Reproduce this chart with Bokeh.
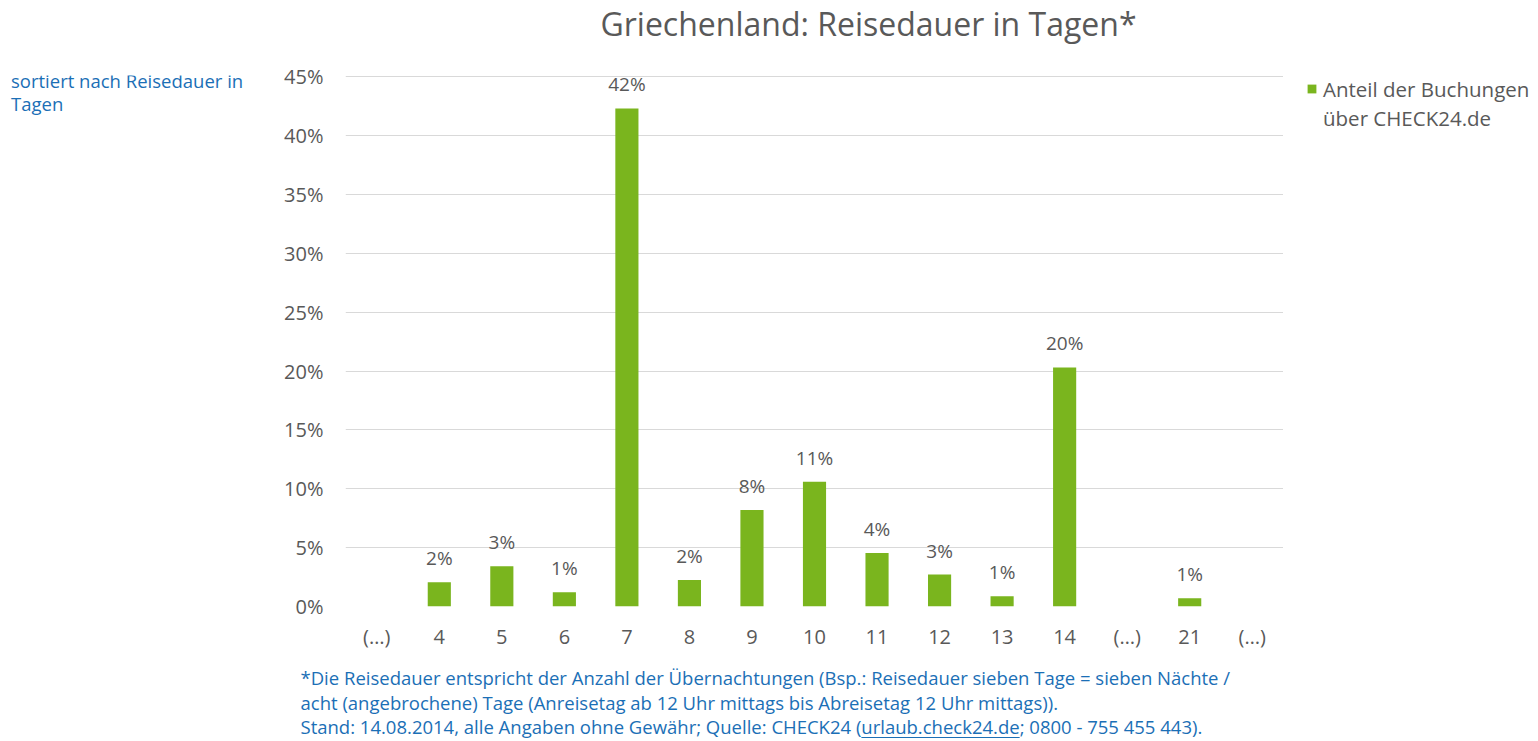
import glob
import subprocess

from bokeh.plotting import figure
from bokeh.layouts import column, row
from bokeh.models import BoxAnnotation, ColumnDataSource, FixedTicker, Label, Legend, LegendItem, Range1d
from bokeh.embed import file_html
from bokeh.resources import INLINE
from bokeh.core.properties import value

# ---- data ----
categories = ["(…)", "4", "5", "6", "7", "8", "9", "10", "11", "12", "13", "14", "(…)", "21", "(…)"]
shares = [0, 2.07, 3.42, 1.21, 42.3, 2.26, 8.2, 10.6, 4.55, 2.71, 0.87, 20.3, 0, 0.70, 0]
share_labels = ["", "2%", "3%", "1%", "42%", "2%", "8%", "11%", "4%", "3%", "1%", "20%", "", "1%", ""]
y_ticks = [0, 5, 10, 15, 20, 25, 30, 35, 40, 45]
title_text = "Griechenland: Reisedauer in Tagen*"
legend_lines = ["Anteil der Buchungen", "über CHECK24.de"]
side_note = ["sortiert nach Reisedauer in", "Tagen"]
footnote = [
    "*Die Reisedauer entspricht der Anzahl der Übernachtungen (Bsp.: Reisedauer sieben Tage = sieben Nächte /",
    "acht (angebrochene) Tage (Anreisetag ab 12 Uhr mittags bis Abreisetag 12 Uhr mittags)).",
    "Stand: 14.08.2014, alle Angaben ohne Gewähr; Quelle: CHECK24 (urlaub.check24.de; 0800 - 755 455 443).",
]
link_text = "urlaub.check24.de"

FONT = "Open Sans"
GREY = "#595959"
BLUE = "#1b6fb6"
GREEN = "#7AB51E"

TOTAL_W = 1536
NOTE_W = 250
LEG_W = 253
CHART_W = TOTAL_W - NOTE_W - LEG_W
TITLE_H = 60
MID_H = 596
FOOT_H = 85
FRAME_TOP = 75      # page y of the chart frame top
FRAME_BOT = 606     # page y of the chart frame bottom (shared by the row)
FOOT_SIZE = 18.5
FOOT_X = 300


def text_fig(w, h):
    f = figure(width=w, height=h, output_backend="svg", toolbar_location=None,
               x_axis_type=None, y_axis_type=None, min_border=0,
               x_range=Range1d(-100, -99), y_range=Range1d(0, 1))
    f.outline_line_color = None
    f.xgrid.visible = False
    f.ygrid.visible = False
    return f


def measure(text, size):
    """Width of text in px for the installed Open Sans (None if unavailable)."""
    try:
        from PIL import ImageFont
        path = None
        try:
            path = subprocess.run(["fc-match", "-f", "%{file}", FONT], capture_output=True,
                                  text=True, timeout=5).stdout.strip()
        except Exception:
            path = None
        if not path or "opensans" not in path.replace(" ", "").lower():
            cands = glob.glob("/usr/share/fonts/**/OpenSans*Regular*.ttf", recursive=True) + \
                glob.glob("/usr/share/fonts/**/OpenSans*.ttf", recursive=True)
            path = cands[0] if cands else None
        if not path:
            return None
        f = ImageFont.truetype(path, 200)
        return f.getlength(text) * size / 200.0
    except Exception:
        return None


# ---- title ----
tf = text_fig(TOTAL_W, TITLE_H)
tf.add_layout(Label(x=868, y=TITLE_H - 33.5 + 11, x_units="screen", y_units="screen", text=title_text,
                    text_align="center", text_baseline="alphabetic", text_color=GREY,
                    text_font=FONT, text_font_size="32px"))

# ---- side note (frame aligned with chart frame) ----
nf = text_fig(NOTE_W, MID_H)
for i, t in enumerate(side_note):
    nf.add_layout(Label(x=10.5, y=FRAME_BOT - 86.7 - 23.3 * i + 7, x_units="screen", y_units="screen",
                        text=t, text_align="left", text_baseline="alphabetic", text_color=BLUE,
                        text_font=FONT, text_font_size="18.5px"))

# ---- chart ----
xs = list(range(len(categories)))
src = ColumnDataSource(dict(x=xs, top=shares, lab=share_labels))

p = figure(width=CHART_W, height=MID_H, output_backend="svg", toolbar_location=None,
           x_range=Range1d(-0.5, len(categories) - 0.5), y_range=Range1d(0, 45.1),
           min_border_left=345 - NOTE_W, min_border_right=0, min_border_top=FRAME_TOP - TITLE_H,
           min_border_bottom=MID_H - (FRAME_TOP - TITLE_H) - (FRAME_BOT - FRAME_TOP))
p.outline_line_color = None

r = p.vbar(x="x", top="top", width=0.37, source=src, fill_color=GREEN, line_color=None)
p.text(x="x", y="top", text="lab", source=src, text_align="center", text_baseline="alphabetic",
       y_offset=-24, text_color=GREY, text_font=value(FONT), text_font_size="19px")

p.xaxis.ticker = FixedTicker(ticks=xs)
p.xaxis.major_label_overrides = {i: c for i, c in zip(xs, categories)}
p.yaxis.ticker = FixedTicker(ticks=y_ticks)
p.yaxis.major_label_overrides = {t: f"{t}%" for t in y_ticks}
for ax in (p.xaxis[0], p.yaxis[0]):
    ax.axis_line_color = None
    ax.major_tick_line_color = None
    ax.minor_tick_line_color = None
    ax.major_label_text_color = GREY
    ax.major_label_text_font = FONT
    ax.major_label_text_font_size = "20px"
p.xaxis.major_label_standoff = 10
p.yaxis.major_label_standoff = 16

p.xgrid.grid_line_color = None
p.ygrid.ticker = FixedTicker(ticks=y_ticks)
p.ygrid.grid_line_color = "#d9d9d9"
p.ygrid.grid_line_width = 1

# ---- legend (frame aligned with chart frame); proxy renderer shares the data but lies off-range ----
lf = text_fig(LEG_W, MID_H)
lr = lf.vbar(x="x", top="top", width=0.37, source=src, fill_color=GREEN, line_color=None)
LEG_ITEM_H = 29
legend = Legend(items=[LegendItem(label=legend_lines[0], renderers=[lr]),
                       LegendItem(label=legend_lines[1], renderers=[])],
                location=(23, (FRAME_BOT - FRAME_TOP) - 2 * LEG_ITEM_H + 1),
                glyph_width=11, glyph_height=11, label_standoff=6, label_height=LEG_ITEM_H, spacing=0,
                padding=0, margin=0, border_line_color=None, background_fill_alpha=0,
                label_text_font=FONT, label_text_font_size="20.5px", label_text_color=GREY)
lf.add_layout(legend, "center")

# ---- footnote ----
ff = text_fig(TOTAL_W, FOOT_H)
for i, t in enumerate(footnote):
    ff.add_layout(Label(x=FOOT_X, y=741 - 685 - 24.5 * i + 8, x_units="screen", y_units="screen",
                        text=t, text_align="left", text_baseline="alphabetic", text_color=BLUE,
                        text_font=FONT, text_font_size=f"{FOOT_SIZE}px"))

# underline of the link in the last footnote line
last = footnote[-1]
k = last.find(link_text)
w_pre = measure(last[:k], FOOT_SIZE)
w_link = measure(link_text, FOOT_SIZE)
if w_pre is not None and w_link is not None:
    ff.add_layout(BoxAnnotation(left=FOOT_X + w_pre, right=FOOT_X + w_pre + w_link,
                                bottom=3.5, top=4.5, left_units="screen", right_units="screen",
                                bottom_units="screen", top_units="screen",
                                fill_color=BLUE, fill_alpha=1, line_color=None))

layout = column(tf, row(nf, p, lf, spacing=0), ff, spacing=0)
open("out.html", "w").write(file_html(layout, INLINE))
